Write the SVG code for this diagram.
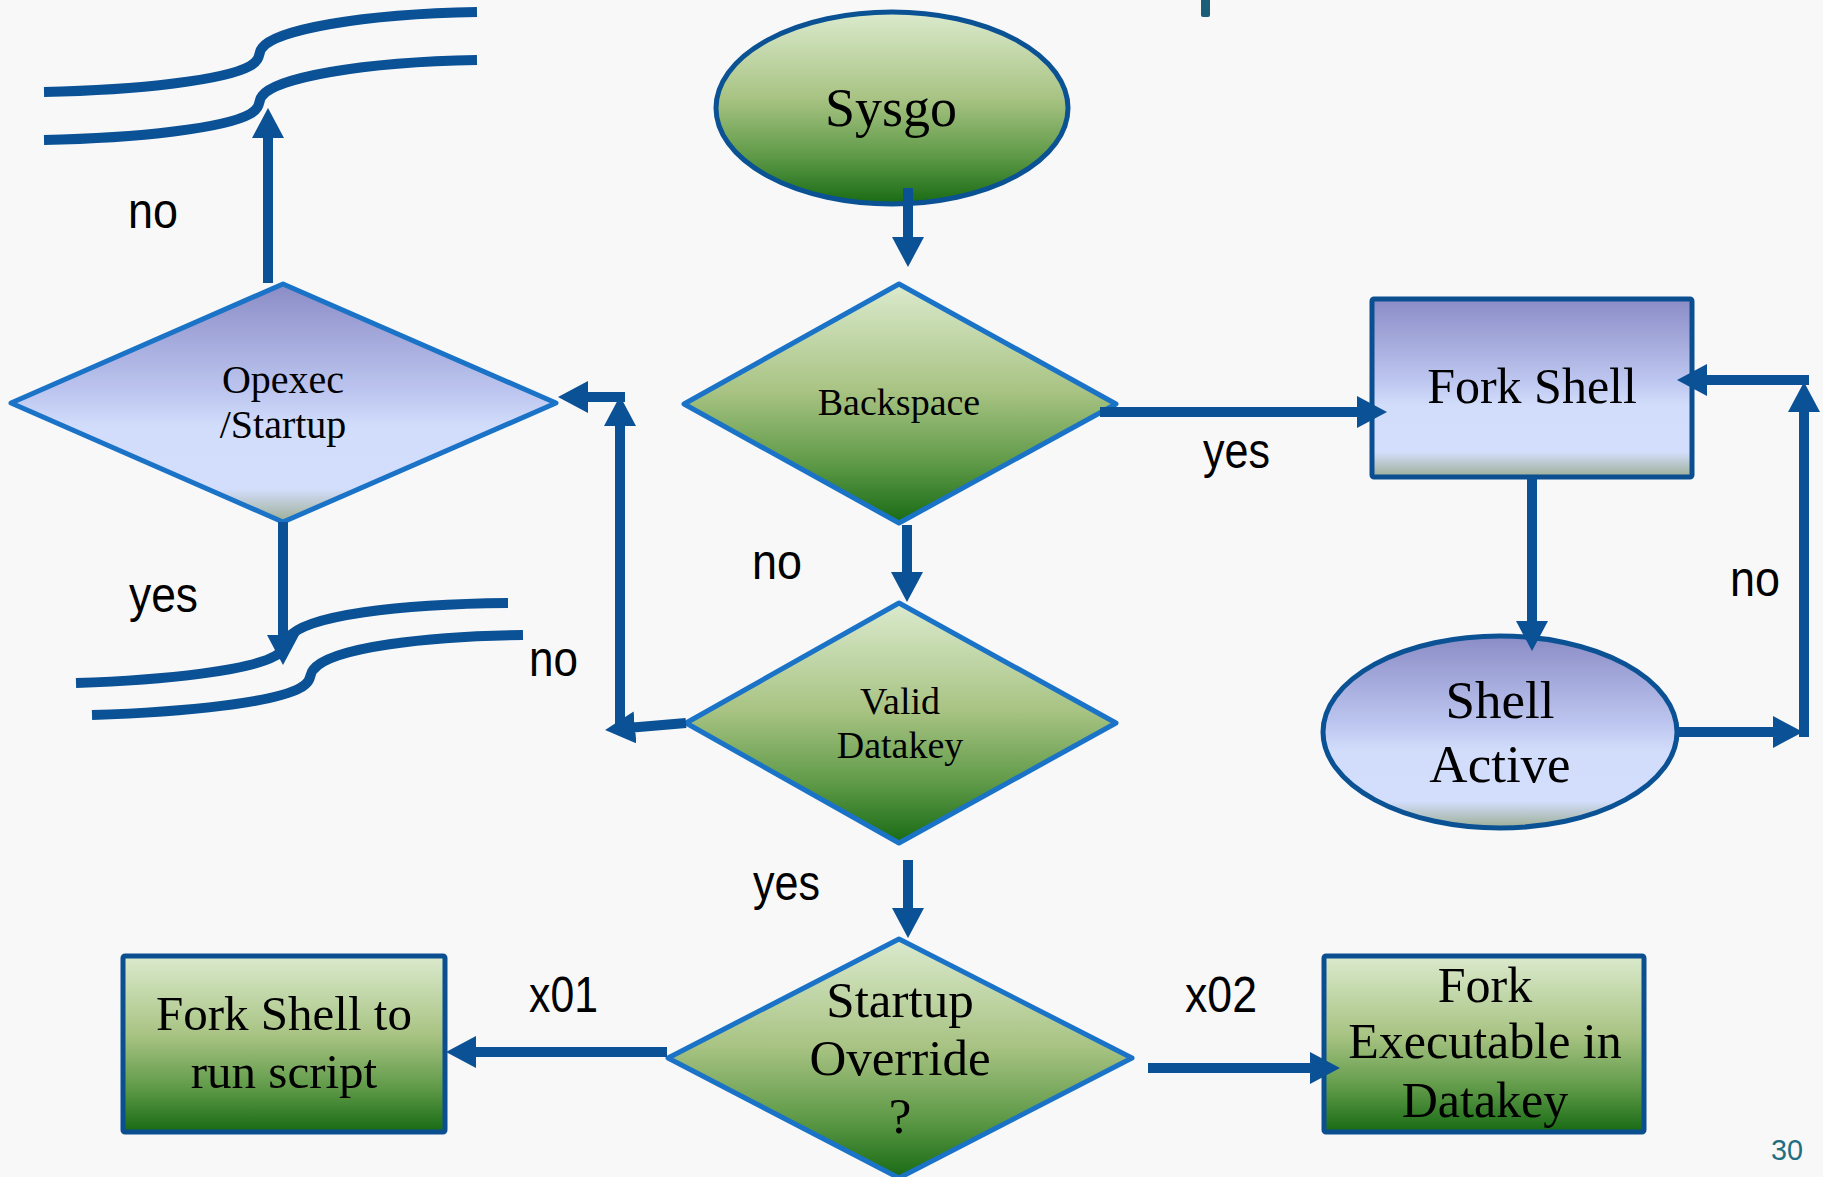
<svg xmlns="http://www.w3.org/2000/svg" width="1823" height="1177" viewBox="0 0 1823 1177">
  <defs>
    <linearGradient id="gGreen" x1="0" y1="0" x2="0" y2="1">
      <stop offset="0" stop-color="#dbeacd"/>
      <stop offset="0.45" stop-color="#a8c383"/>
      <stop offset="0.75" stop-color="#5f9a48"/>
      <stop offset="1" stop-color="#186a14"/>
    </linearGradient>
    <linearGradient id="gBlue" x1="0" y1="0" x2="0" y2="1">
      <stop offset="0" stop-color="#8b8cc6"/>
      <stop offset="0.45" stop-color="#bcc5ef"/>
      <stop offset="0.6" stop-color="#d2ddfb"/>
      <stop offset="0.86" stop-color="#d3defc"/>
      <stop offset="1" stop-color="#9cae96"/>
    </linearGradient>
    <marker id="ah" markerUnits="userSpaceOnUse" markerWidth="31" markerHeight="32" refX="2" refY="16" orient="auto">
      <path d="M0,0 L30,16 L0,32 Z" fill="#0a5196"/>
    </marker>
  </defs>
  <style>
    .bg { fill: #f8f8f8; }
    .conn { fill: none; stroke: #0a5196; stroke-width: 10; marker-end: url(#ah); }
    .flow { fill: none; stroke: #0a5196; stroke-width: 10; }
    .dia-g { fill: url(#gGreen); stroke: #1a73c6; stroke-width: 5; stroke-linejoin: round; }
    .dia-b { fill: url(#gBlue); stroke: #1a73c6; stroke-width: 5; stroke-linejoin: round; }
    .ell-g { fill: url(#gGreen); stroke: #0b5294; stroke-width: 5; }
    .ell-b { fill: url(#gBlue); stroke: #0b5294; stroke-width: 5; }
    .box-g { fill: url(#gGreen); stroke: #0b4f91; stroke-width: 5; }
    .box-b { fill: url(#gBlue); stroke: #0b4f91; stroke-width: 5; }
    .nt { font-family: "Liberation Serif", "Times New Roman", serif; fill: #000; text-anchor: middle; }
    .lbl { font-family: "Liberation Sans", Arial, sans-serif; font-size: 50px; fill: #000; }
    .pg { font-family: "Liberation Sans", Arial, sans-serif; font-size: 30px; fill: #1f6f80; }
  </style>

  <rect class="bg" x="0" y="0" width="1823" height="1177"/>
  <!-- small tick at the top edge -->
  <rect x="1201" y="-4" width="9" height="21" rx="2" fill="#1a5e78"/>

  <!-- off-page flow lines -->
  <g id="flow-top">
    <path class="flow" d="M44,92 C140,90 225,80 250,66 C262,59 258,52 262,48 C275,30 360,14 477,12"/>
    <path class="flow" d="M44,140 C140,138 225,128 250,114 C262,107 258,100 262,96 C275,78 360,62 477,60"/>
  </g>
  <g id="flow-bottom">
    <path class="flow" d="M76,683 C170,680 250,670 275,656 C288,649 284,642 288,638 C305,615 400,604 508,603"/>
    <path class="flow" d="M92,715 C190,712 275,702 300,688 C313,681 309,674 313,670 C330,647 430,636 523,635"/>
  </g>

  <!-- nodes -->
  <g id="sysgo">
    <ellipse class="ell-g" cx="892" cy="108" rx="176" ry="96"/>
    <text class="nt" x="891" y="126" font-size="54">Sysgo</text>
  </g>
  <g id="backspace">
    <polygon class="dia-g" points="899,284 1116,404 899,523 684,404"/>
    <text class="nt" x="899" y="415" font-size="38">Backspace</text>
  </g>
  <g id="valid-datakey">
    <polygon class="dia-g" points="899,603 1116,723 899,843 686,723"/>
    <text class="nt" x="900" y="714" font-size="38">Valid</text>
    <text class="nt" x="900" y="758" font-size="38">Datakey</text>
  </g>
  <g id="opexec-startup">
    <polygon class="dia-b" points="283,284 556,403 283,522 11,403"/>
    <text class="nt" x="283" y="393" font-size="40">Opexec</text>
    <text class="nt" x="283" y="438" font-size="40">/Startup</text>
  </g>
  <g id="fork-shell">
    <rect class="box-b" x="1372" y="299" width="320" height="178" rx="2"/>
    <text class="nt" x="1532" y="403" font-size="50">Fork Shell</text>
  </g>
  <g id="shell-active">
    <ellipse class="ell-b" cx="1500" cy="732" rx="177" ry="96"/>
    <text class="nt" x="1500" y="718" font-size="53">Shell</text>
    <text class="nt" x="1500" y="782" font-size="53">Active</text>
  </g>
  <g id="startup-override">
    <polygon class="dia-g" points="899,939 1132,1058 899,1178 668,1058"/>
    <text class="nt" x="900" y="1017" font-size="51">Startup</text>
    <text class="nt" x="900" y="1075" font-size="51">Override</text>
    <text class="nt" x="900" y="1133" font-size="51">?</text>
  </g>
  <g id="fork-shell-script">
    <rect class="box-g" x="123" y="956" width="322" height="176" rx="2"/>
    <text class="nt" x="284" y="1030" font-size="49">Fork Shell to</text>
    <text class="nt" x="284" y="1088" font-size="49">run script</text>
  </g>
  <g id="fork-executable">
    <rect class="box-g" x="1324" y="956" width="320" height="176" rx="2"/>
    <text class="nt" x="1485" y="1002" font-size="50">Fork</text>
    <text class="nt" x="1485" y="1058" font-size="50">Executable in</text>
    <text class="nt" x="1485" y="1117" font-size="50">Datakey</text>
  </g>

  <!-- connectors -->
  <g id="connectors">
    <path class="conn" d="M908,188 V239"/>
    <path class="conn" d="M907,525 V574"/>
    <path class="conn" d="M1100,412 H1359"/>
    <path class="conn" d="M1532,477 V623"/>
    <path class="conn" d="M1677,732 H1775"/>
    <path class="conn" d="M1804,737 V410"/>
    <path class="conn" d="M1809,380 H1705"/>
    <path class="conn" d="M686,723 L633,727.6"/>
    <path class="conn" d="M620,731 V424"/>
    <path class="conn" d="M625,397 H586"/>
    <path class="conn" d="M908,860 V910"/>
    <path class="conn" d="M667,1052 H474"/>
    <path class="conn" d="M1148,1068 H1312"/>
    <path class="conn" d="M268,283 V136"/>
    <path class="conn" d="M283,522 V637"/>
  </g>

  <!-- connector labels -->
  <g id="labels">
    <text class="lbl" x="128" y="228" textLength="50" lengthAdjust="spacingAndGlyphs">no</text>
    <text class="lbl" x="129" y="612" textLength="69" lengthAdjust="spacingAndGlyphs">yes</text>
    <text class="lbl" x="529" y="676" textLength="49" lengthAdjust="spacingAndGlyphs">no</text>
    <text class="lbl" x="752" y="579" textLength="50" lengthAdjust="spacingAndGlyphs">no</text>
    <text class="lbl" x="1203" y="468" textLength="67" lengthAdjust="spacingAndGlyphs">yes</text>
    <text class="lbl" x="1730" y="596" textLength="50" lengthAdjust="spacingAndGlyphs">no</text>
    <text class="lbl" x="753" y="900" textLength="67" lengthAdjust="spacingAndGlyphs">yes</text>
    <text class="lbl" x="529" y="1012" textLength="69" lengthAdjust="spacingAndGlyphs">x01</text>
    <text class="lbl" x="1185" y="1012" textLength="72" lengthAdjust="spacingAndGlyphs">x02</text>
  </g>
  <text class="pg" x="1771" y="1160" textLength="32" lengthAdjust="spacingAndGlyphs">30</text>
</svg>
